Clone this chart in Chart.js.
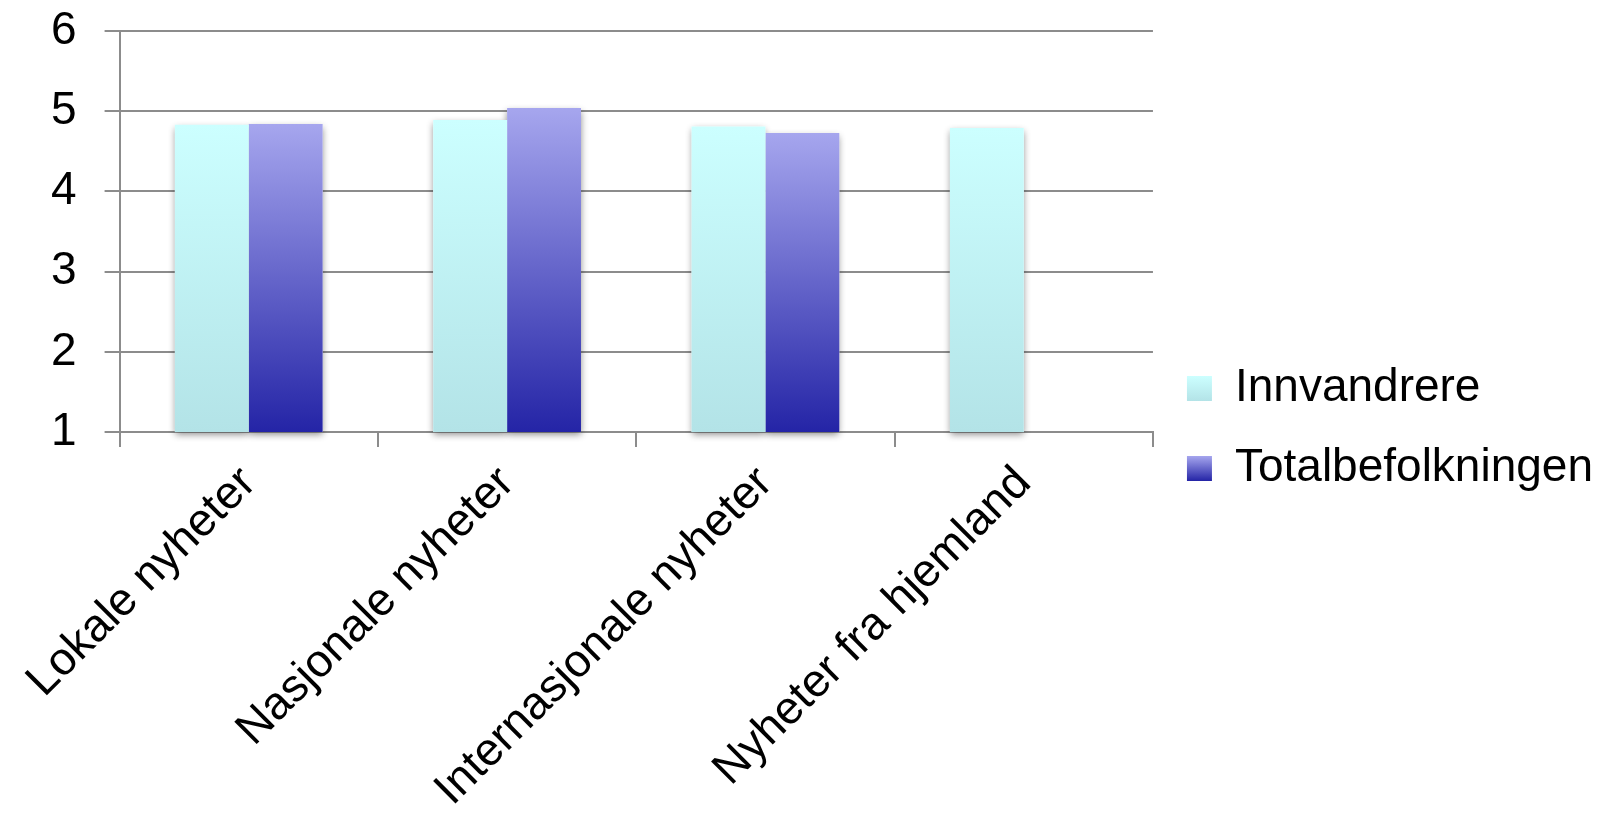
<!DOCTYPE html>
<html>
<head>
<meta charset="utf-8">
<script src="https://cdn.jsdelivr.net/npm/chart.js@4/dist/chart.umd.min.js"></script>
<style>
  html, body { margin: 0; padding: 0; background: #fff; }
  #wrap { width: 1603px; height: 826px; position: relative; }
</style>
</head>
<body>
<div id="wrap"><canvas id="chart"></canvas></div>
<script>
"use strict";

// Data
const categories = ['Lokale nyheter', 'Nasjonale nyheter', 'Internasjonale nyheter', 'Nyheter fra hjemland'];
const seriesNames = ['Innvandrere', 'Totalbefolkningen'];
const innvandrere = [4.83, 4.89, 4.81, 4.79];
const totalbefolkningen = [4.84, 5.04, 4.73, null];
const yTicks = [1, 2, 3, 4, 5, 6];

// Colours (top -> bottom of gradient)
const innvColors = ['#ccffff', '#b3e3e7'];
const totalColors = ['#a6a6ee', '#2424a6'];

const FONT = "'Liberation Sans', Arial, sans-serif";

function barGradient(colors) {
    return (context) => {
        const chart = context.chart;
        if (context.type !== 'data' || !chart.scales.y || context.parsed == null) {
            return colors[0];
        }
        const yScale = chart.scales.y;
        const top = yScale.getPixelForValue(context.parsed.y);
        const bottom = yScale.getPixelForValue(yScale.min);
        if (!isFinite(top) || !isFinite(bottom) || top === bottom) return colors[0];
        const g = chart.ctx.createLinearGradient(0, top, 0, bottom);
        g.addColorStop(0, colors[0]);
        g.addColorStop(1, colors[1]);
        return g;
    };
}

// Soft drop shadow under every bar, drawn before the bars themselves
const barShadow = {
    id: 'barShadow',
    beforeDatasetsDraw(chart) {
        const ctx = chart.ctx;
        const bottom = chart.chartArea.bottom;
        ctx.save();
        ctx.shadowColor = 'rgba(0, 0, 0, 0.45)';
        ctx.shadowBlur = 7;
        ctx.shadowOffsetX = 0;
        ctx.shadowOffsetY = 3;
        ctx.fillStyle = '#ffffff';
        chart.data.datasets.forEach((ds, i) => {
            const meta = chart.getDatasetMeta(i);
            meta.data.forEach((bar, j) => {
                if (ds.data[j] == null) return;
                const base = Math.min(bar.base, bottom);
                ctx.fillRect(bar.x - bar.width / 2, bar.y, bar.width, base - bar.y);
            });
        });
        ctx.restore();
    }
};

// Gradient legend boxes
const legendGradients = {
    id: 'legendGradients',
    beforeDraw(chart) {
        const legend = chart.legend;
        if (!legend || !legend.legendItems) return;
        const sets = [innvColors, totalColors];
        legend.legendItems.forEach((item, i) => {
            const hb = legend.legendHitBoxes[i];
            if (!hb) return;
            const top = hb.top + (hb.height - 25) / 2;
            const g = chart.ctx.createLinearGradient(0, top, 0, top + 25);
            g.addColorStop(0, sets[item.datasetIndex][0]);
            g.addColorStop(1, sets[item.datasetIndex][1]);
            item.fillStyle = g;
        });
    }
};

const ctx = document.getElementById('chart').getContext('2d');

new Chart(ctx, {
    type: 'bar',
    data: {
        labels: categories,
        datasets: [
            {
                label: seriesNames[0],
                data: innvandrere,
                backgroundColor: barGradient(innvColors),
                borderWidth: 0,
                categoryPercentage: 0.572,
                barPercentage: 1
            },
            {
                label: seriesNames[1],
                data: totalbefolkningen,
                backgroundColor: barGradient(totalColors),
                borderWidth: 0,
                categoryPercentage: 0.572,
                barPercentage: 1
            }
        ]
    },
    options: {
        responsive: true,
        maintainAspectRatio: false,
        animation: false,
        layout: {
            padding: { left: 23, top: 31, right: 0, bottom: 0 }
        },
        plugins: {
            tooltip: { enabled: false },
            legend: {
                position: 'right',
                align: 'center',
                maxWidth: 480,
                labels: {
                    color: '#000',
                    boxWidth: 25,
                    boxHeight: 25,
                    padding: 34,
                    font: { family: FONT, size: 46 }
                }
            }
        },
        scales: {
            x: {
                grid: {
                    display: true,
                    drawOnChartArea: false,
                    drawTicks: true,
                    tickLength: 15,
                    color: '#8c8c8c',
                    lineWidth: 2
                },
                border: { display: true, color: '#8c8c8c', width: 2 },
                ticks: {
                    color: '#000',
                    minRotation: 45,
                    maxRotation: 45,
                    padding: 9,
                    font: { family: FONT, size: 46 }
                }
            },
            y: {
                min: yTicks[0],
                max: yTicks[yTicks.length - 1],
                afterBuildTicks: (scale) => {
                    scale.ticks = yTicks.map(v => ({ value: v }));
                },
                afterFit: (scale) => {
                    scale.paddingTop = 0;
                    scale.paddingBottom = 0;
                },
                grid: {
                    color: '#8c8c8c',
                    lineWidth: 2,
                    tickLength: 15
                },
                border: { display: true, color: '#8c8c8c', width: 2 },
                ticks: {
                    color: '#000',
                    padding: 28,
                    font: { family: FONT, size: 46 }
                }
            }
        }
    },
    plugins: [barShadow, legendGradients]
});
</script>
</body>
</html>
